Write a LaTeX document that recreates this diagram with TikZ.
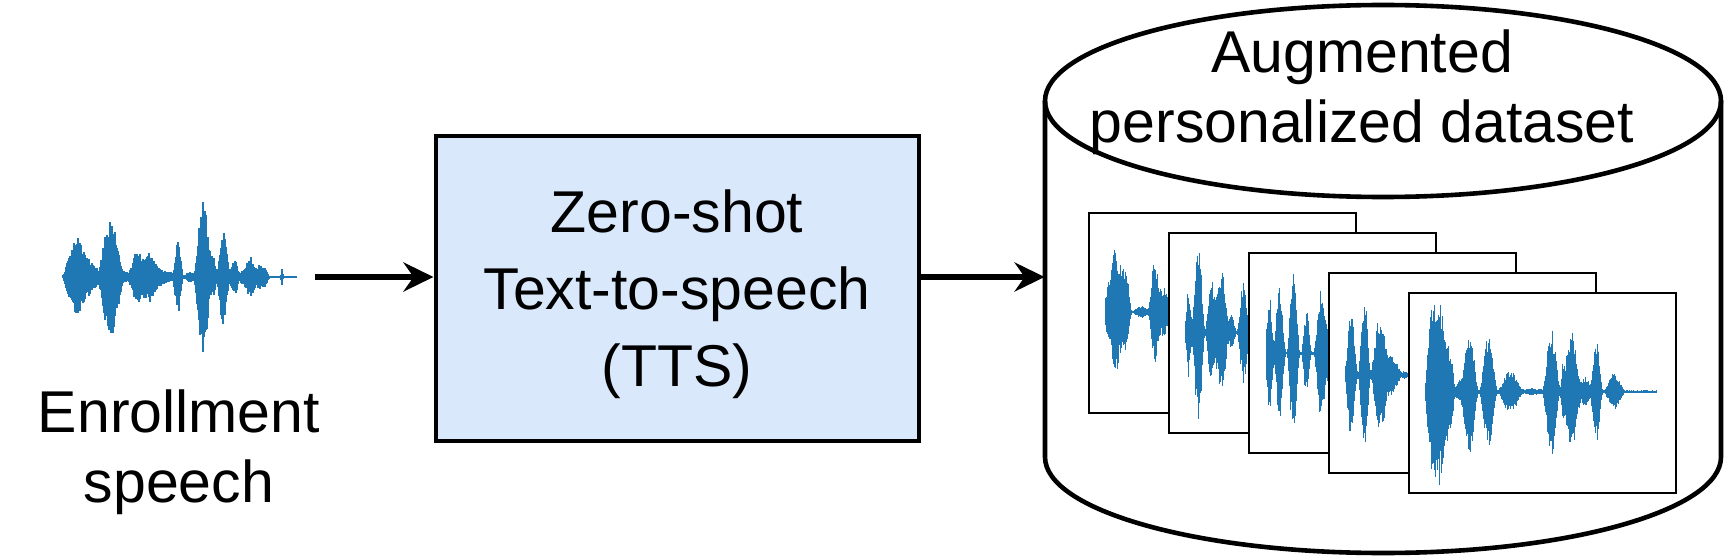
\documentclass[tikz,border=0pt]{standalone}
\usepackage{fontspec}
\setmainfont{Liberation Sans}
\usetikzlibrary{arrows.meta}

\definecolor{ttsblue}{HTML}{DAE8FC}
\definecolor{wavecol}{HTML}{1F77B4}

\tikzset{
  ttsbox/.style={draw, line width=2pt, fill=ttsblue, minimum width=241.5pt, minimum height=152.5pt, inner sep=0pt},
  txt/.style={align=center, inner sep=0pt, font=\fontsize{29.5}{35}\selectfont},
  ttstxt/.style={txt, font=\fontsize{29.5}{38.5}\selectfont},
  flow/.style={line width=2.6pt, -{Stealth[length=15pt, width=14.5pt, inset=5pt]}},
  sample/.style={draw, fill=white, line width=1.1pt, minimum width=133.5pt, minimum height=100pt, inner sep=0pt},
  wavestroke/.style={wavecol, line width=0.6pt},
  dbline/.style={line width=2.3pt},
}

% speech wave: start x, centre y, number of samples, bursts (pos/halfwidth/height)
\newcommand{\speechwave}[4]{%
  \foreach \i in {0,...,#3}{
    \gdef\wamp{1.5}
    \foreach \bx/\bw/\bh in {#4}{
      \pgfmathsetmacro\wt{min(abs(\i-\bx)/(1.35*\bw),1)}
      \pgfmathparse{\wamp+\bh*(1-\wt*\wt)*(1-\wt*\wt)}
      \xdef\wamp{\pgfmathresult}
    }
    \pgfmathsetmacro\wup{\wamp*(0.65+0.35*rnd)}
    \pgfmathsetmacro\wdn{\wamp*(0.65+0.35*rnd)}
    \draw[wavestroke] (#1+\i,#2-\wup) -- (#1+\i,#2+\wdn);
  }%
}

\begin{document}
\begin{tikzpicture}[x=0.5pt, y=-0.5pt]
  \useasboundingbox (0,0) rectangle (1724,556);
  \pgfmathsetseed{7}

  % Enrollment speech
  \node[inner sep=0pt, minimum width=116.5pt, minimum height=80pt] (wave) at (179.5,277) {};
  \speechwave{63}{277}{233}{10/8/30, 19/8/26, 29/6/12, 38/6/5, 48/10/60, 62/5/5, 75/8/26, 87/7/24, 97/6/8, 106/6/4, 115/4/36, 127/5/4, 140/7/78, 150/4/20, 160/5/46, 166/4/6, 172/4/16, 180/4/6, 187/5/20, 194/4/8, 200/5/12, 219/1/8}
  \node[txt] (enroll) at (179,451.75) {Enrollment\\speech};

  % TTS block
  \node[ttsbox] (tts) at (677,288.5) {};
  \node[ttstxt] (ttslabel) at (677,294.5) {Zero-shot\\Text-to-speech\\(TTS)};

  % Dataset cylinder
  \node[inner sep=0pt, minimum width=338pt, minimum height=274pt] (db) at (1383,279) {};
  \draw[dbline, fill=white] (1045,101) -- (1045,457) arc[start angle=180, end angle=360, x radius=169pt, y radius=48pt] -- (1721,101);
  \draw[dbline] (1383,101) ellipse[x radius=169pt, y radius=48pt];
  \node[txt] (dbtitle) at (1362,91.75) {Augmented\\personalized dataset};

  % Generated samples
  \node[sample] (s1) at (1222.3,313.3) {};
  \speechwave{1105.7}{312}{66}{11/12/52, 10/3/18, 21/4/22, 36/7/5, 49/5/36, 52/8/16, 60/6/18}
  \node[sample] (s2) at (1302.3,333.3) {};
  \speechwave{1185.7}{332}{66}{3/3/36, 13/5/86, 8/10/10, 26/5/52, 36/6/66, 46/4/16, 58/5/50}
  \node[sample] (s3) at (1382.3,353.3) {};
  \speechwave{1266.7}{353.3}{66}{3/4/56, 13/5/66, 27/5/86, 40/4/42, 55/6/66, 64/4/28}
  \node[sample] (s4) at (1462.3,373.3) {};
  \speechwave{1345.7}{375}{66}{3/4/10, 6/5/56, 19/5/78, 34/7/56, 42/6/18, 49/6/13, 59/3/3}
  \node[sample] (s5) at (1542.3,393.3) {};
  \speechwave{1425.8}{391.7}{231}{11/10/80, 6/5/26, 17/6/26, 24/5/42, 34/4/10, 44/7/62, 63/7/56, 85/10/20, 107/12/2, 126/7/62, 137/2/22, 146/8/62, 160/6/13, 171/5/50, 189/8/17}

  % Arrows
  \draw[flow] ([xshift=9.5pt]wave.east) -- (tts.west |- wave.east);
  \draw[flow] (tts.east |- wave.east) -- (db.west |- wave.east);
\end{tikzpicture}
\end{document}
